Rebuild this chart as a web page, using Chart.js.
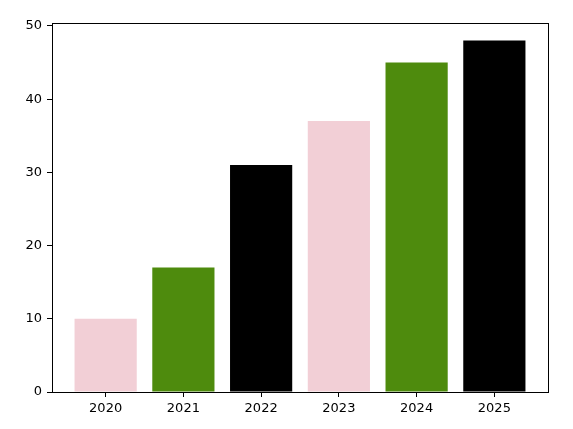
<!DOCTYPE html>
<html>
<head>
<meta charset="utf-8">
<script src="https://cdn.jsdelivr.net/npm/chart.js@4"></script>
<style>
  html, body { margin: 0; padding: 0; background: #fff; }
  canvas { display: block; }
</style>
</head>
<body>
<canvas id="yearChart" width="573" height="429"></canvas>
<script>
const years = ['2020', '2021', '2022', '2023', '2024', '2025'];
const values = [10, 17, 31, 37, 45, 48];
const barColors = ['#F2CFD6', '#4E8B0D', '#000000', '#F2CFD6', '#4E8B0D', '#000000'];
const yTicks = [0, 10, 20, 30, 40, 50];

const frame = {
    id: 'frame',
    afterDraw(chart) {
        const a = chart.chartArea;
        const c = chart.ctx;
        c.save();
        c.strokeStyle = '#000';
        c.lineWidth = 1;
        c.strokeRect(Math.round(a.left) + 0.5, Math.round(a.top) + 0.5,
            Math.round(a.right - a.left), Math.round(a.bottom - a.top));
        c.restore();
    }
};

const ctx = document.getElementById('yearChart').getContext('2d');
new Chart(ctx, {
    type: 'bar',
    data: {
        datasets: [{
            data: values.map((v, i) => ({ x: i, y: v })),
            backgroundColor: barColors,
            borderWidth: 0,
            barPercentage: 0.8,
            categoryPercentage: 1
        }]
    },
    options: {
        responsive: false,
        animation: false,
        layout: { padding: { top: 23, right: 25, left: 0, bottom: 0 } },
        plugins: { legend: { display: false }, tooltip: { enabled: false } },
        scales: {
            x: {
                type: 'linear',
                min: -0.69,
                max: 5.69,
                offset: false,
                afterBuildTicks: s => { s.ticks = years.map((_, i) => ({ value: i })); },
                afterFit: s => { s.height = 37; },
                ticks: {
                    callback: v => years[v],
                    color: '#000',
                    font: { family: 'DejaVu Sans', size: 13 },
                    padding: 4,
                    maxRotation: 0,
                    autoSkip: false
                },
                grid: { offset: false, drawOnChartArea: false, drawTicks: true, tickLength: 5, color: '#000' },
                border: { display: true, color: '#000' }
            },
            y: {
                min: 0,
                max: 50.4,
                afterBuildTicks: s => { s.ticks = yTicks.map(v => ({ value: v })); },
                afterFit: s => { s.width = 52; },
                ticks: {
                    color: '#000',
                    font: { family: 'DejaVu Sans', size: 13 },
                    padding: 5
                },
                grid: { drawOnChartArea: false, drawTicks: true, tickLength: 5, color: '#000' },
                border: { display: true, color: '#000' }
            }
        }
    },
    plugins: [frame]
});
</script>
</body>
</html>
